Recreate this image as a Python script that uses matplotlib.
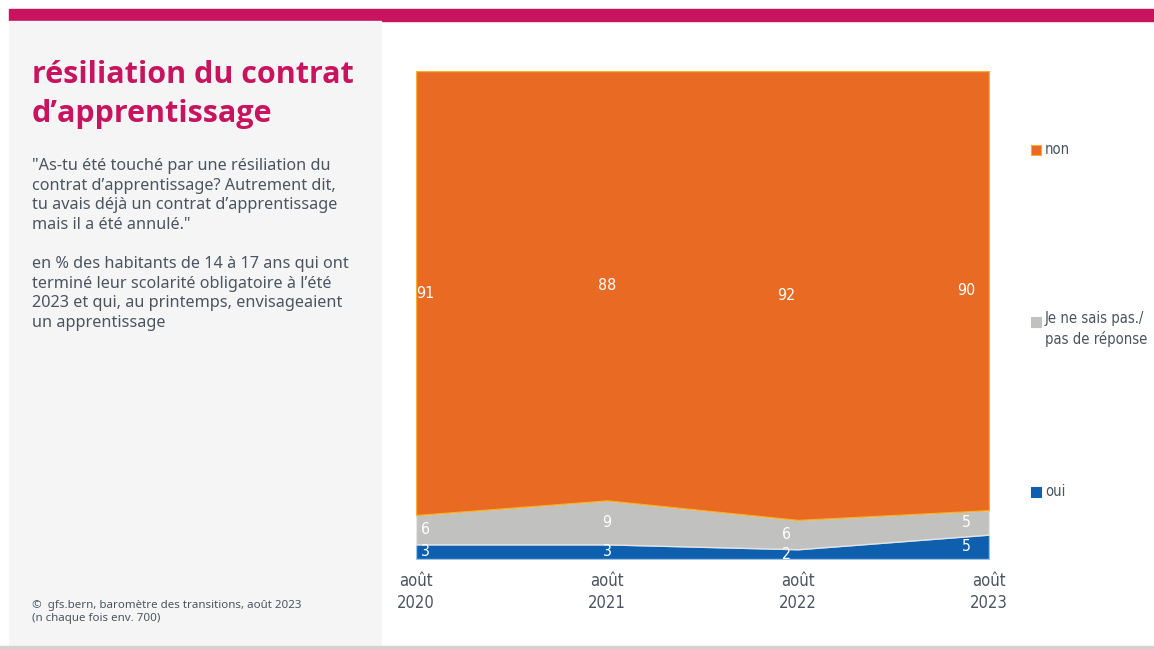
import matplotlib
matplotlib.use("Agg")
import matplotlib.pyplot as plt
from matplotlib import font_manager
from matplotlib.patches import Rectangle

# Survey waves and shares (in %)
waves = ["août\n2020", "août\n2021", "août\n2022", "août\n2023"]
oui = [3, 3, 2, 5]
ne_sais_pas = [6, 9, 6, 5]
non = [91, 88, 92, 90]

series_labels = ["oui", "Je ne sais pas./\npas de réponse", "non"]

C_ORANGE = "#E86A23"
C_ORANGE_EDGE = "#F6B02A"
C_GREY = "#C1C1BF"
C_GREY_EDGE = "#E4E4E2"
C_BLUE = "#0E5FAE"
C_BLUE_EDGE = "#9CC3E8"
C_MAGENTA = "#C8135F"
C_TEXT = "#4A5561"
C_PANEL = "#F5F5F5"

FONT = ["Noto Sans", "DejaVu Sans"]
plt.rcParams["font.family"] = FONT

# Pick fonts that are actually present: a bold face for the title and a
# narrow face for the compact labels.
_faces = font_manager.fontManager.ttflist


def _has(name, bold=False, narrow=False):
    for f in _faces:
        if f.name != name:
            continue
        w = f.weight if isinstance(f.weight, int) else (700 if "bold" in str(f.weight) else 400)
        if bold and w < 600:
            continue
        if narrow and "condensed" not in str(f.stretch) and "Narrow" not in f.name:
            continue
        return True
    return False


BOLD_FAMILY = next((n for n in ["Noto Sans", "Open Sans", "Lato", "Roboto"] if _has(n, bold=True)),
                   "DejaVu Sans")
if _has("Liberation Sans Narrow"):
    NARROW = dict(family=["Liberation Sans Narrow", "DejaVu Sans"])
    NARROW_SCALE = 1.0
elif _has("DejaVu Sans", narrow=True):
    NARROW = dict(family=["DejaVu Sans"], stretch="condensed")
    NARROW_SCALE = 0.95
else:
    NARROW = dict(family=FONT)
    NARROW_SCALE = 0.9

W, H = 1154, 649
fig = plt.figure(figsize=(W / 100, H / 100), dpi=100)
fig.patch.set_facecolor("white")


def fx(px):
    return px / W


def fy(py):
    return 1 - py / H


# Page decoration: header band, side panel, bottom rule
fig.patches.append(Rectangle((fx(9), fy(21)), fx(1154 - 9), 12 / H,
                             transform=fig.transFigure, color=C_MAGENTA, zorder=0))
fig.patches.append(Rectangle((fx(9), fy(645)), fx(381 - 9), 624 / H,
                             transform=fig.transFigure, color=C_PANEL, zorder=0))
fig.patches.append(Rectangle((0, fy(649)), 1, 3 / H,
                             transform=fig.transFigure, color="#D2D2D2", zorder=0))

# Title and description (y given as the baseline of the last line)
fig.text(fx(32), fy(122), "résiliation du contrat\nd’apprentissage", color=C_MAGENTA,
         fontsize=22, fontweight="bold", va="baseline", ha="left", linespacing=1.38,
         family=[BOLD_FAMILY, "DejaVu Sans"])
fig.text(fx(32), fy(229),
         "\"As-tu été touché par une résiliation du\ncontrat d’apprentissage? Autrement dit,\n"
         "tu avais déjà un contrat d’apprentissage\nmais il a été annulé.\"",
         color=C_TEXT, fontsize=11.7, va="baseline", ha="left", linespacing=1.3)
fig.text(fx(32), fy(327),
         "en % des habitants de 14 à 17 ans qui ont\nterminé leur scolarité obligatoire à l’été\n"
         "2023 et qui, au printemps, envisageaient\nun apprentissage",
         color=C_TEXT, fontsize=11.7, va="baseline", ha="left", linespacing=1.3)
fig.text(fx(32), fy(621), "©  gfs.bern, baromètre des transitions, août 2023\n(n chaque fois env. 700)",
         color=C_TEXT, fontsize=8.3, va="baseline", ha="left", linespacing=1.25)

# Stacked area chart
ax = fig.add_axes([fx(416), fy(559), fx(989 - 416), (559 - 71) / H])
x = list(range(len(waves)))
layers = [oui, ne_sais_pas, non]
colors = [C_BLUE, C_GREY, C_ORANGE]
edges = [C_BLUE_EDGE, C_GREY_EDGE, C_ORANGE_EDGE]
polys = ax.stackplot(x, *layers, colors=colors, linewidth=1.0)
for p, ec in zip(polys, edges):
    p.set_edgecolor(ec)
    p.set_linewidth(1.0)

ax.set_xlim(0, len(waves) - 1)
ax.set_ylim(0, 100)
ax.set_yticks([])
ax.set_xticks(x)
ax.set_xticklabels(waves, fontsize=12.5 * NARROW_SCALE, color=C_TEXT, linespacing=1.3, **NARROW)
ax.tick_params(axis="x", length=0, pad=9)
for s in ax.spines.values():
    s.set_visible(False)

# Value labels centred in each band
base = [0] * len(waves)
x_offsets = [0.05, 0.0, -0.06, -0.12]
for vals in layers:
    for i, v in enumerate(vals):
        ax.text(i + x_offsets[i], base[i] + v / 2, str(v), color="white",
                fontsize=12 * NARROW_SCALE, ha="center", va="center", **NARROW)
    base = [b + v for b, v in zip(base, vals)]

# Legend entries placed beside the chart
legend_items = [("non", C_ORANGE, C_ORANGE_EDGE, 150),
                (series_labels[1], C_GREY, C_GREY, 322),
                ("oui", C_BLUE, C_BLUE, 492)]
for label, fc, ec, py in legend_items:
    fig.patches.append(Rectangle((fx(1031), fy(py + 5)), fx(10), 10 / H,
                                 transform=fig.transFigure, facecolor=fc, edgecolor=ec,
                                 linewidth=0.8))
    if "\n" in label:
        fig.text(fx(1045), fy(py - 11), label, color=C_TEXT, fontsize=11.2 * NARROW_SCALE,
                 va="top", ha="left", linespacing=1.35, **NARROW)
    else:
        fig.text(fx(1045), fy(py), label, color=C_TEXT, fontsize=11.2 * NARROW_SCALE,
                 va="center", ha="left", **NARROW)

fig.savefig("out.png", dpi=100, facecolor="white")
